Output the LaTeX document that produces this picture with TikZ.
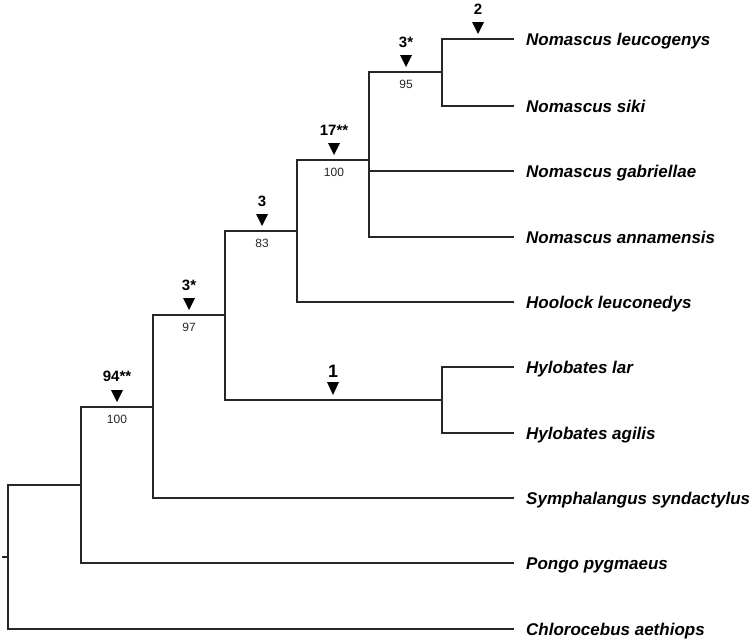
\documentclass[tikz,border=0pt]{standalone}
\usepackage{fontspec}
\setmainfont{Liberation Sans}
\begin{document}
\begin{tikzpicture}[x=1pt,y=-1pt,
  branch/.style={line width=1.7pt, color=black!85, line cap=rect},
  taxon/.style={anchor=base west, inner sep=0pt, font=\fontsize{17}{20}\selectfont\bfseries\itshape},
  chg/.style={inner sep=0pt, font=\fontsize{15}{18}\selectfont\bfseries},
  supp/.style={inner sep=0pt, font=\fontsize{12}{14}\selectfont, color=black!85},
  tri/.style={fill=black}]
\useasboundingbox (0,0) rectangle (751,640);
% internal nodes
\coordinate (root) at (8,557);
\coordinate (F) at (81,485);
\coordinate (E) at (153,407);
\coordinate (D) at (225,315);
\coordinate (C) at (297,231);
\coordinate (B) at (369,160);
\coordinate (A) at (442,72);
\coordinate (H) at (442,400);
% tips
\coordinate (t1) at (513,39);
\coordinate (t2) at (513,106);
\coordinate (t3) at (513,171);
\coordinate (t4) at (513,237);
\coordinate (t5) at (513,302);
\coordinate (t6) at (513,367);
\coordinate (t7) at (513,433);
\coordinate (t8) at (513,498);
\coordinate (t9) at (513,563);
\coordinate (t10) at (513,629);
\coordinate (rt) at (3,557);
% branches
\draw[branch] (rt) -- (root);
\draw[branch] (root) |- (F);
\draw[branch] (root) |- (t10);
\draw[branch] (F) |- (E);
\draw[branch] (F) |- (t9);
\draw[branch] (E) |- (D);
\draw[branch] (E) |- (t8);
\draw[branch] (D) |- (C);
\draw[branch] (D) |- (H);
\draw[branch] (H) |- (t6);
\draw[branch] (H) |- (t7);
\draw[branch] (C) |- (B);
\draw[branch] (C) |- (t5);
\draw[branch] (B) |- (A);
\draw[branch] (B) |- (t3);
\draw[branch] (B) |- (t4);
\draw[branch] (A) |- (t1);
\draw[branch] (A) |- (t2);
% taxa
\node[taxon] (n1) at (526,45.5) {Nomascus leucogenys};
\node[taxon] (n2) at (526,112.5) {Nomascus siki};
\node[taxon] (n3) at (526,177.5) {Nomascus gabriellae};
\node[taxon] (n4) at (526,243.5) {Nomascus annamensis};
\node[taxon] (n5) at (526,308.5) {Hoolock leuconedys};
\node[taxon] (n6) at (526,373.5) {Hylobates lar};
\node[taxon] (n7) at (526,439.5) {Hylobates agilis};
\node[taxon] (n8) at (526,504.5) {Symphalangus syndactylus};
\node[taxon] (n9) at (526,569.5) {Pongo pygmaeus};
\node[taxon] (n10) at (526,635.5) {Chlorocebus aethiops};
% marks on branches
\coordinate (m1) at (478,39);
\coordinate (m2) at (406,72);
\coordinate (m3) at (334,160);
\coordinate (m4) at (262,231);
\coordinate (m5) at (189,315);
\coordinate (m6) at (333,400);
\coordinate (m7) at (117,407);
\foreach \m in {m1,m2,m3,m4,m5,m7}{
  \fill[tri] ([shift={(-6,-17)}]\m) -- ([shift={(6,-17)}]\m) -- ([shift={(0,-5)}]\m) -- cycle;
}
\fill[tri] ([shift={(-6,-18)}]m6) -- ([shift={(6,-18)}]m6) -- ([shift={(0,-5)}]m6) -- cycle;
\node[chg] (c1) at ([shift={(0,-30)}]m1) {2};
\node[chg] (c2) at ([shift={(0,-30)}]m2) {3*};
\node[chg] (c3) at ([shift={(0,-30)}]m3) {17**};
\node[chg] (c4) at ([shift={(0,-30)}]m4) {3};
\node[chg] (c5) at ([shift={(0,-30)}]m5) {3*};
\node[chg,font=\fontsize{18}{20}\selectfont\bfseries] (c6) at ([shift={(0,-29)}]m6) {1};
\node[chg] (c7) at ([shift={(0,-31)}]m7) {94**};
\node[supp] (s2) at ([shift={(0,12)}]m2) {95};
\node[supp] (s3) at ([shift={(0,12)}]m3) {100};
\node[supp] (s4) at ([shift={(0,12)}]m4) {83};
\node[supp] (s5) at ([shift={(0,12)}]m5) {97};
\node[supp] (s7) at ([shift={(0,12)}]m7) {100};
\end{tikzpicture}
\end{document}
